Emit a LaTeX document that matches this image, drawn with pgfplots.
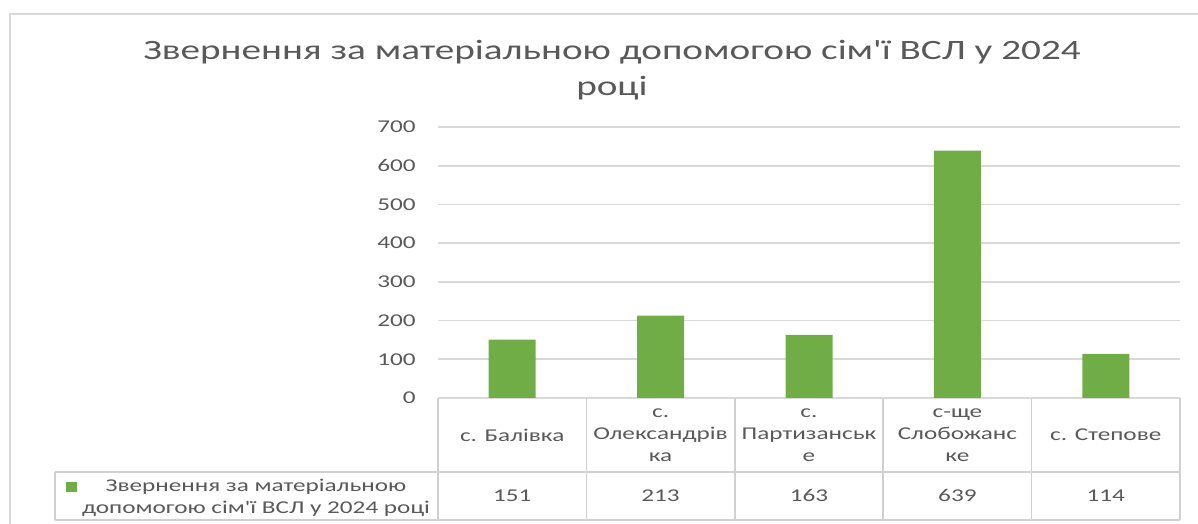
\documentclass[border=0pt]{standalone}
\usepackage{pgfplots}
\pgfplotsset{compat=1.18}
\usepackage{fontspec}
\setmainfont{Carlito}[FakeStretch=1.4, Ligatures=TeXOff]
\definecolor{bargreen}{HTML}{70AD47}
\definecolor{gridgray}{HTML}{D9D9D9}
\definecolor{tblgray}{HTML}{D0D0D0}
\definecolor{txtgray}{HTML}{595959}
\begin{document}
\begin{tikzpicture}
\path[use as bounding box] (0,0) rectangle (599pt,262pt);
% chart border
\draw[gridgray, line width=1pt] (5pt,0) -- (5pt,255pt) -- (599pt,255pt);
% title
\node[align=center, text=txtgray, font=\fontsize{14}{18}\selectfont] at (306pt,227pt)
  {Звернення за матеріальною допомогою сім'ї ВСЛ у 2024\\році};
\begin{axis}[
  at={(219pt,63pt)}, anchor=south west,
  scale only axis, width=371pt, height=135.5pt,
  xmin=0, xmax=5, ymin=0, ymax=700,
  clip=false,
  axis line style={draw=none},
  major tick length=0pt,
  ytick={0,100,...,700},
  ymajorgrids, grid style={gridgray, line width=0.8pt},
  xtick={0.5,1.5,2.5,3.5,4.5},
  xticklabels={{с. Балівка},{с.\\Олександрів\\ка},{с.\\Партизанськ\\е},{с-ще\\Слобожанс\\ке},{с. Степове}},
  xticklabel style={anchor=center, yshift=-18.5pt, align=center, text=txtgray, font=\fontsize{9}{11}\selectfont},
  yticklabel style={anchor=east, inner sep=0pt, xshift=-11pt, text=txtgray, font=\fontsize{9}{11}\selectfont},
  /pgf/number format/assume math mode=true,
]
\addplot[ybar, bar width=23.5pt, fill=bargreen, draw=none] coordinates {
  (0.5,151) (1.5,213) (2.5,163) (3.5,639) (4.5,114)};
\addplot[draw=none, mark=none, nodes near coords, point meta=explicit symbolic,
  every node near coord/.append style={anchor=center, text=txtgray, font=\fontsize{9}{11}\selectfont}]
  coordinates {(0.5,-253)[151] (1.5,-253)[213] (2.5,-253)[163] (3.5,-253)[639] (4.5,-253)[114]};
\end{axis}
% data table lines
\begin{scope}[tblgray, line width=0.8pt]
\draw (27.5pt,26pt) -- (590pt,26pt);
\draw (27.5pt,2pt) -- (590pt,2pt);
\draw (27.5pt,2pt) -- (27.5pt,26pt);
\foreach \xx in {219,293.2,367.4,441.6,515.8,590} {\draw (\xx pt,2pt) -- (\xx pt,63pt);}
\end{scope}
% legend key
\fill[bargreen] (33pt,16pt) rectangle (38.5pt,21pt);
\node[align=center, text=txtgray, font=\fontsize{9}{11}\selectfont] at (128pt,13pt)
  {Звернення за матеріальною\\допомогою сім'ї ВСЛ у 2024 році};
\end{tikzpicture}
\end{document}
